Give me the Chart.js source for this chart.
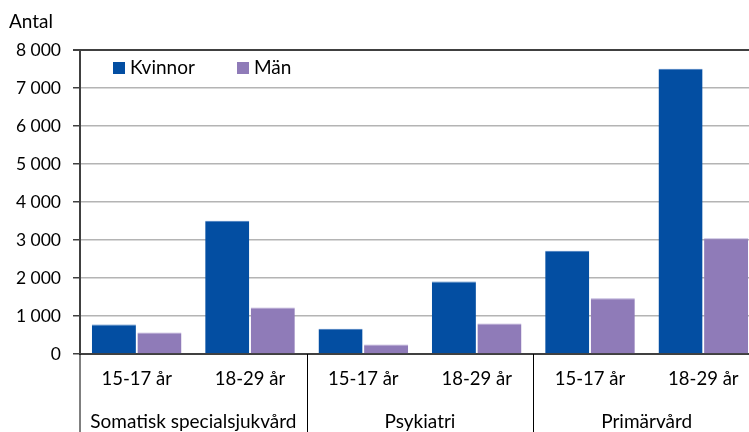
<!DOCTYPE html>
<html>
<head>
<meta charset="utf-8">
<script src="https://cdn.jsdelivr.net/npm/chart.js@4.4.1/dist/chart.umd.min.js"></script>
<style>
  html, body { margin: 0; padding: 0; overflow: hidden; background: #fff; }
  #wrap { position: relative; width: 760px; height: 432px; }
</style>
</head>
<body>
<div id="wrap"><canvas id="c" width="760" height="432"></canvas></div>
<script>
  'use strict'
  var ageLabels = ['15-17 år', '18-29 år', '15-17 år', '18-29 år', '15-17 år', '18-29 år']
  var groupLabels = ['Somatisk specialsjukvård', 'Psykiatri', 'Primärvård']
  var kvinnor = [776, 3505, 663, 1908, 2716, 7505]
  var man = [566, 1224, 250, 803, 1470, 3047]
  var seriesNames = ['Kvinnor', 'Män']
  var seriesColors = ['#034ea2', '#8f7bb8']

  var FONT = 'Lato, "Open Sans", sans-serif'
  var AXIS = '#404040'

  var fmt = function (v) {
    return String(v).replace(/\B(?=(\d{3})+(?!\d))/g, ' ')
  }

  var extras = {
    id: 'extras',
    afterDraw: function (chart) {
      var ctx = chart.ctx
      var area = chart.chartArea
      var x = chart.scales.x
      ctx.save()
      // group separators and extended y axis line
      ctx.strokeStyle = '#000'
      ctx.lineWidth = 1
      ctx.beginPath()
      ;[2, 4].forEach(function (i) {
        var px = Math.round((x.getPixelForValue(i - 1) + x.getPixelForValue(i)) / 2) + 0.5
        ctx.moveTo(px, area.bottom)
        ctx.lineTo(px, chart.height)
      })
      ctx.moveTo(area.left, area.bottom)
      ctx.lineTo(area.left, chart.height)
      ctx.stroke()
      // group labels
      ctx.fillStyle = '#000'
      ctx.font = '19px ' + FONT
      ctx.textAlign = 'center'
      ctx.textBaseline = 'alphabetic'
      groupLabels.forEach(function (g, i) {
        var cx = (x.getPixelForValue(i * 2) + x.getPixelForValue(i * 2 + 1)) / 2
        ctx.fillText(g, cx, 428)
      })
      // y title
      ctx.textAlign = 'left'
      ctx.fillText('Antal', 9, 28)
      // legend
      var lx = [113, 237]
      seriesNames.forEach(function (n, i) {
        ctx.fillStyle = seriesColors[i]
        ctx.fillRect(lx[i], 62, 12, 12)
        ctx.fillStyle = '#000'
        ctx.textBaseline = 'middle'
        ctx.fillText(n, lx[i] + 17, 68)
      })
      ctx.restore()
    },
  }

  new Chart(document.getElementById('c'), {
    type: 'bar',
    data: {
      labels: ageLabels,
      datasets: [
        {
          label: seriesNames[0],
          data: kvinnor,
          backgroundColor: seriesColors[0],
          borderColor: '#3f78bd',
          borderWidth: { top: 1, left: 0, right: 0, bottom: 0 },
          categoryPercentage: 0.804,
          barPercentage: 0.967,
        },
        {
          label: seriesNames[1],
          data: man,
          backgroundColor: seriesColors[1],
          borderColor: '#b3a6d4',
          borderWidth: { top: 1, left: 0, right: 0, bottom: 0 },
          categoryPercentage: 0.804,
          barPercentage: 0.967,
        },
      ],
    },
    options: {
      responsive: false,
      animation: false,
      layout: { padding: { top: 50, right: 0, bottom: 0, left: 0 } },
      plugins: {
        legend: { display: false },
        tooltip: { enabled: false },
      },
      scales: {
        x: {
          grid: { display: false, drawTicks: false },
          border: { color: AXIS, width: 2 },
          ticks: {
            color: '#000',
            font: { family: FONT, size: 18.5 },
            padding: 14,
            maxRotation: 0,
            autoSkip: false,
          },
          afterFit: function (scale) {
            scale.height = 78
          },
        },
        y: {
          min: 0,
          max: 8000,
          ticks: {
            stepSize: 1000,
            color: '#000',
            font: { family: FONT, size: 17.5 },
            padding: 12,
            callback: function (v) {
              return fmt(v)
            },
          },
          grid: {
            color: function (c) {
              return c.tick && c.tick.value === 8000 ? AXIS : '#b4b4b4'
            },
            lineWidth: function (c) {
              return c.tick && c.tick.value === 8000 ? 2 : 1.5
            },
            tickColor: AXIS,
            tickLength: 7,
          },
          border: { color: AXIS, width: 2 },
          afterFit: function (scale) {
            scale.width = 80
          },
        },
      },
    },
    plugins: [extras],
  })
</script>
</body>
</html>
